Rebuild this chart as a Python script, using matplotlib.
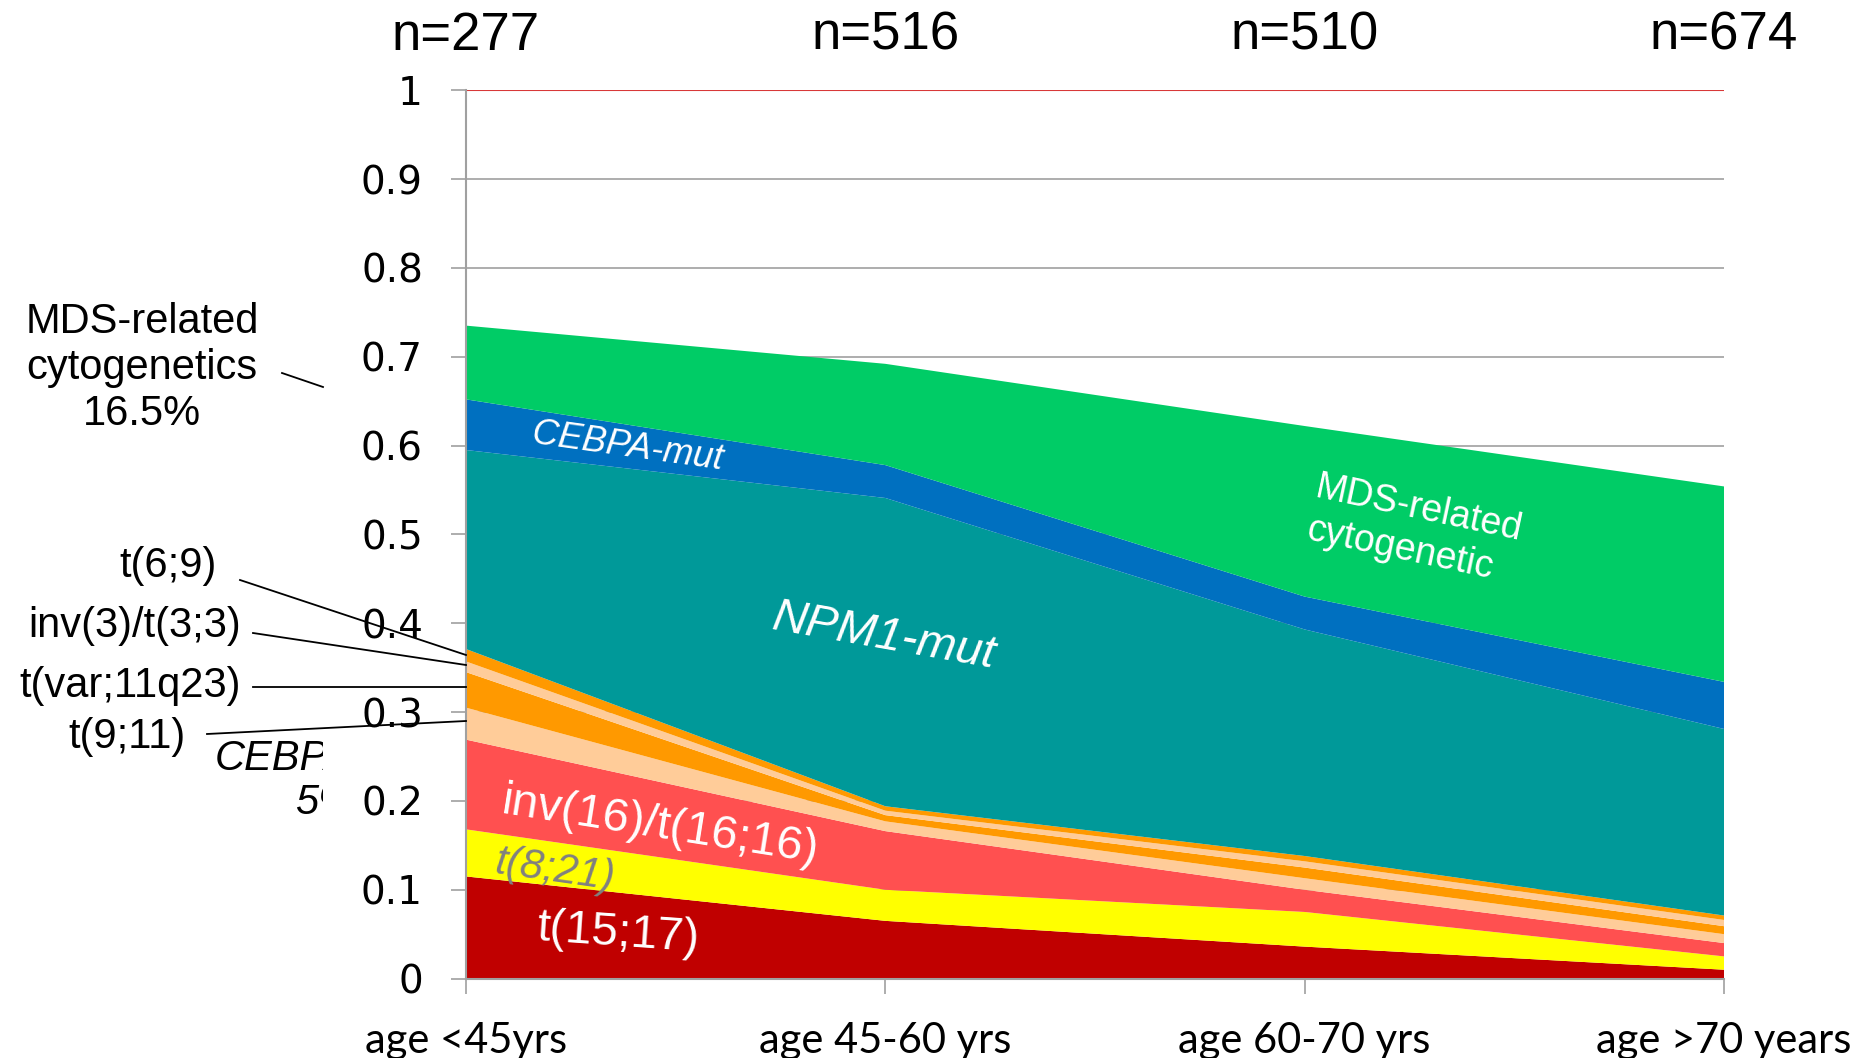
import numpy as np
import matplotlib
matplotlib.use("Agg")
import matplotlib.pyplot as plt
from matplotlib.lines import Line2D
from matplotlib.transforms import Bbox, blended_transform_factory

# age groups and sample sizes
groups = ["age <45yrs", "age 45-60 yrs", "age 60-70 yrs", "age >70 years"]
n_labels = ["n=277", "n=516", "n=510", "n=674"]

# stacked fractions per age group (bottom to top)
t15_17 = [0.115, 0.065, 0.036, 0.010]
t8_21 = [0.053, 0.035, 0.039, 0.015]
inv16 = [0.101, 0.066, 0.025, 0.015]
t9_11 = [0.036, 0.011, 0.013, 0.010]
t_var_11q23 = [0.040, 0.007, 0.012, 0.009]
inv3 = [0.012, 0.005, 0.007, 0.007]
t6_9 = [0.014, 0.005, 0.006, 0.005]
npm1 = [0.224, 0.347, 0.255, 0.210]
cebpa = [0.057, 0.037, 0.037, 0.053]
mds = [0.083, 0.114, 0.192, 0.220]

colors = ["#C00000", "#FFFF00", "#FF5050", "#FFCC99", "#FF9900",
          "#FFCC99", "#FF9900", "#009999", "#0070C0", "#00CC66"]

W, H = 1860, 1058
fig = plt.figure(figsize=(W / 100, H / 100), dpi=100)
ax = fig.add_axes([466 / W, 1 - 978.6 / H, 1258 / W, 888.4 / H])

x = np.arange(len(groups))
ax.stackplot(x, t15_17, t8_21, inv16, t9_11, t_var_11q23, inv3, t6_9,
             npm1, cebpa, mds, colors=colors, zorder=2)

ax.set_xlim(0, 3)
ax.set_ylim(0, 1)
yt = np.round(np.arange(0, 1.01, 0.1), 1)
ax.set_yticks(yt)
ax.set_yticklabels(["0" if v == 0 else ("1" if v == 1 else str(v)) for v in yt],
                   family="DejaVu Sans")
ax.set_xticks(x)
ax.set_xticklabels(groups, family="Lato")
ax.tick_params(axis="y", length=11, width=1.2, color="#A0A0A0", pad=20, labelsize=28)
ax.tick_params(axis="x", length=11, width=1.2, color="#A0A0A0", pad=20, labelsize=30)
for v in yt[1:-1]:
    ax.axhline(v, color="#A0A0A0", lw=1.2, zorder=1)
ax.axhline(1, color="#D83838", lw=1.5, zorder=1)
for s in ["top", "right"]:
    ax.spines[s].set_visible(False)
for s in ["left", "bottom"]:
    ax.spines[s].set_color("#A0A0A0")
    ax.spines[s].set_linewidth(1.5)

# sample sizes above the chart
top_tr = blended_transform_factory(ax.transData, fig.transFigure)
for xi, lab in zip(x, n_labels):
    ax.text(xi, 1 - 36 / H, lab, transform=top_tr,
            ha="center", va="center", fontsize=38, family="Liberation Sans")

# labels inside the areas
ax.text(0.385, 0.598, "CEBPA-mut", color="white", style="italic", fontsize=26,
        family="Liberation Sans", rotation=-8, ha="center", va="center", zorder=5)
ax.text(0.997, 0.385, "NPM1-mut", color="white", style="italic", fontsize=34,
        family="Liberation Sans", rotation=-10, ha="center", va="center", zorder=5)
ax.text(2.261, 0.505, "MDS-related\ncytogenetic", color="white", fontsize=27,
        family="Liberation Sans", rotation=-12, ha="center", va="center",
        multialignment="left", linespacing=1.25, zorder=5)
ax.text(0.463, 0.171, "inv(16)/t(16;16)", color="white", fontsize=34,
        family="Liberation Sans", rotation=-9, ha="center", va="center", zorder=5)
ax.text(0.212, 0.122, "t(8;21)", color="#808080", style="italic", fontsize=30,
        family="Liberation Sans", rotation=-8, ha="center", va="center", zorder=5)
ax.text(0.363, 0.050, "t(15;17)", color="white", fontsize=34,
        family="Liberation Sans", rotation=-4, ha="center", va="center", zorder=5)

# annotations on the left
def ftext(px, py, s, **kw):
    return fig.text(px / W, 1 - py / H, s, family="Liberation Sans", fontsize=30, **kw)

ftext(142, 368, "MDS-related\ncytogenetics\n16.5%", ha="center", va="center", linespacing=1.2)
ftext(217, 566, "t(6;9)", ha="right", va="center")
ftext(241, 626, "inv(3)/t(3;3)", ha="right", va="center")
ftext(241, 686, "t(var;11q23)", ha="right", va="center")
ftext(186, 737, "t(9;11)", ha="right", va="center")
cut = ftext(325, 781, "CEBPA-mut\n5%", ha="center", va="center", style="italic", linespacing=1.1)
cut.set_clip_box(Bbox.from_extents(0, 0, 323, H))
cut.set_clip_on(True)

leaders = [((282, 373), (323, 387)),
           ((240, 580), (466, 655)),
           ((253, 633), (466, 665)),
           ((253, 687), (466, 687)),
           ((207, 734), (466, 721))]
for (x1, y1), (x2, y2) in leaders:
    fig.add_artist(Line2D([x1 / W, x2 / W], [1 - y1 / H, 1 - y2 / H],
                          transform=fig.transFigure, color="black", lw=1.3, zorder=11))

fig.savefig("out.png", dpi=100)
